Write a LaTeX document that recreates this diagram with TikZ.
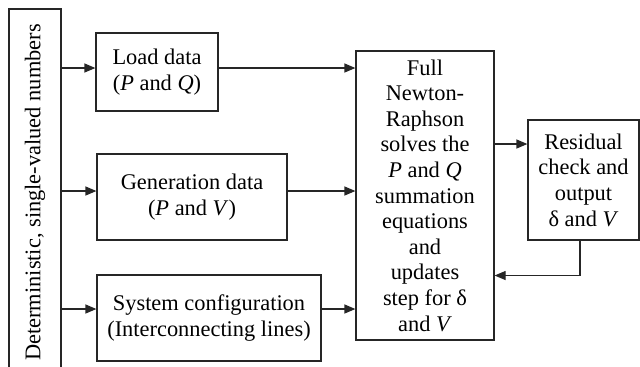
\documentclass[tikz,border=0pt]{standalone}
\usepackage{fontspec}
\setmainfont{Liberation Serif}
\usetikzlibrary{arrows.meta, positioning}

\begin{document}
\begin{tikzpicture}[
    x=0.5pt, y=-0.5pt, % pixel grid of the figure
    box/.style={draw=black!85, line width=0.6pt, align=center, inner sep=0pt,
                font=\fontsize{11.2}{12.8}\selectfont},
    arr/.style={draw=black!85, line width=0.6pt, -{Triangle[length=5.5pt,width=4.5pt]}}
]
  \useasboundingbox (0,0) rectangle (640,366);

  % --- input column ---
  \node[box, rotate=90, minimum width=183.5pt, minimum height=26pt] (det) at (35,192.5)
    {Deterministic, single-valued numbers};

  \node[box, minimum width=61pt, minimum height=39pt] (ld) at (157,72)
    {Load data\\(\textit{P} and \textit{Q})};
  \node[box, minimum width=95pt, minimum height=43pt] (gen) at (192,197)
    {Generation data\\(\textit{P} and \textit{V})};
  \node[box, minimum width=112pt, minimum height=43pt] (sys) at (209,318)
    {System configuration\\(Interconnecting lines)};

  % --- solver and check ---
  \node[box, minimum width=69pt, minimum height=144.5pt] (nr) at (425,195.5)
    {Full\\Newton-\\Raphson\\solves the\\\textit{P} and \textit{Q}\\summation\\equations\\and\\updates\\step for δ\\and \textit{V}};
  \node[box, minimum width=55.5pt, minimum height=60pt] (res) at (583.5,180)
    {Residual\\check and\\output\\δ and \textit{V}};

  % Connection arrows
  \foreach \b/\s in {ld/2pt, gen/3pt, sys/4.5pt} {
    \coordinate (\b-in) at ([yshift=\s]\b.west);
    \coordinate (\b-out) at ([yshift=\s]\b.east);
    \draw[arr] (det.south |- \b-in) -- (\b-in);
    \draw[arr] (\b-out) -- (nr.west |- \b-out);
  }
  \coordinate (res-in) at ([yshift=18pt]res.west);
  \draw[arr] (nr.east |- res-in) -- (res-in);
  \draw[arr] ([xshift=-1.75pt]res.south) |- ([yshift=-40pt]nr.east);

\end{tikzpicture}
\end{document}
